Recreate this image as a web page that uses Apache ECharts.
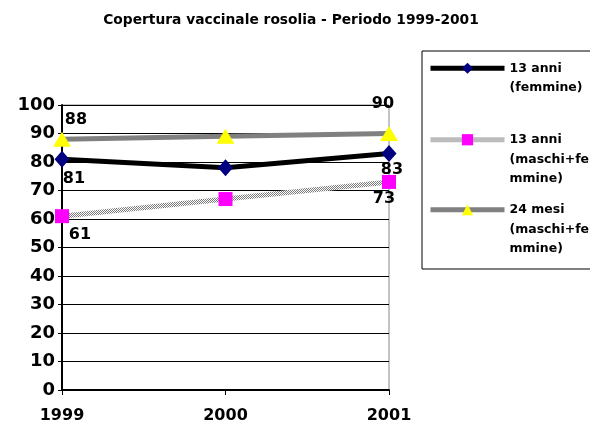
<!DOCTYPE html>
<html>
<head>
<meta charset="utf-8">
<script src="https://cdn.jsdelivr.net/npm/echarts@6/dist/echarts.min.js"></script>
<style>
  html, body { margin: 0; padding: 0; background: #fff; }
  #chart { width: 590px; height: 434px; }
</style>
</head>
<body>
<div id="chart"></div>
<script>
let years = ['1999', '2000', '2001'];
let femmine13 = [81, 78, 83];
let maschiFemmine13 = [61, 67, 73];
let mesi24 = [88, 89, 90];
let yTicks = [0, 10, 20, 30, 40, 50, 60, 70, 80, 90, 100];

let names = ['13 anni\n(femmine)', '13 anni\n(maschi+fe\nmmine)', '24 mesi\n(maschi+fe\nmmine)'];

// hatched grey stroke for the middle series
let pat = document.createElement('canvas');
pat.width = 2; pat.height = 2;
let pctx = pat.getContext('2d');
pctx.fillStyle = '#ffffff'; pctx.fillRect(0, 0, 2, 2);
pctx.fillStyle = '#7a7a7a'; pctx.fillRect(0, 0, 1, 1); pctx.fillRect(1, 1, 1, 1);
let hatch = { image: pat, repeat: 'repeat' };

let font = 'DejaVu Sans, Verdana, sans-serif';

// label placement only on first and last point
function withLabels(vals, first, last) {
  return vals.map(function(v, i) {
    let item = { value: v };
    if (i === 0) item.label = Object.assign({ show: true }, first);
    else if (i === vals.length - 1) item.label = Object.assign({ show: true }, last);
    return item;
  });
}

let labelStyle = {
  color: '#000',
  fontFamily: font,
  fontWeight: 'bold',
  fontSize: 16
};

let chart = echarts.init(document.getElementById('chart'));

// legend text is centred on the icon; pad with blank lines on top so the
// icon sits next to the first line
function legendFor(name, top, lineColor) {
  let lines = name.split('\n').length;
  let ls = { width: 'inherit' };
  if (lineColor) ls.color = lineColor;
  return {
    data: [name],
    left: 428,
    top: top,
    padding: 0,
    itemWidth: 74,
    itemHeight: 14,
    selectedMode: false,
    lineStyle: ls,
    formatter: function(n) {
      let pre = '';
      for (let i = 1; i < lines; i++) pre += ' \n';
      return pre + n;
    },
    textStyle: {
      fontFamily: font,
      fontWeight: 'bold',
      fontSize: 12.5,
      color: '#000',
      lineHeight: 19.5,
      padding: [4, 0, 0, 0]
    }
  };
}

chart.setOption({
  animation: false,
  backgroundColor: '#fff',
  title: {
    text: 'Copertura vaccinale rosolia - Periodo 1999-2001',
    left: 286,
    textAlign: 'center',
    top: 8,
    textStyle: { fontFamily: font, fontWeight: 'bold', fontSize: 13.8, color: '#000' }
  },
  legend: [
    legendFor(names[0], 37),
    legendFor(names[1], 89, hatch),
    legendFor(names[2], 159)
  ],
  graphic: [{
    type: 'rect',
    shape: { x: 422, y: 51, width: 200, height: 218 },
    style: { fill: 'none', stroke: '#000', lineWidth: 1 },
    z: -1
  }],
  grid: {
    left: 62,
    right: 201,
    top: 105,
    bottom: 44,
    show: true,
    borderColor: '#888',
    borderWidth: 1
  },
  xAxis: {
    type: 'category',
    data: years,
    boundaryGap: false,
    axisLine: { lineStyle: { color: '#000', width: 2 } },
    axisTick: { show: true, length: 5, alignWithLabel: true, lineStyle: { color: '#000' } },
    axisLabel: { fontFamily: font, fontWeight: 'bold', fontSize: 16, color: '#000', margin: 18 },
    splitLine: { show: false }
  },
  yAxis: {
    type: 'value',
    min: yTicks[0],
    max: yTicks[yTicks.length - 1],
    interval: 10,
    axisLine: { show: true, lineStyle: { color: '#000', width: 2 } },
    axisTick: { show: true, length: 4, lineStyle: { color: '#000' } },
    axisLabel: { fontFamily: font, fontWeight: 'bold', fontSize: 18, color: '#000', margin: 7 },
    splitLine: { show: true, lineStyle: { color: '#000', width: 1 } }
  },
  series: [{
    name: names[0],
    type: 'line',
    data: withLabels(femmine13,
      Object.assign({ position: 'bottom', distance: 3, offset: [12, 0] }, labelStyle),
      Object.assign({ position: 'bottom', distance: 0, offset: [3, 0] }, labelStyle)),
    lineStyle: { color: '#000', width: 5 },
    itemStyle: { color: '#000080' },
    symbol: 'diamond',
    symbolSize: [15, 17],
    z: 3
  }, {
    name: names[1],
    type: 'line',
    data: withLabels(maschiFemmine13,
      Object.assign({ position: 'bottom', distance: 4, offset: [18, 0] }, labelStyle),
      Object.assign({ position: 'bottom', distance: 2, offset: [-5, 0] }, labelStyle)),
    lineStyle: { color: hatch, width: 5 },
    itemStyle: { color: '#ff00ff' },
    symbol: 'rect',
    symbolSize: 14,
    z: 2
  }, {
    name: names[2],
    type: 'line',
    data: withLabels(mesi24,
      Object.assign({ position: 'top', distance: 4, offset: [14, 0] }, labelStyle),
      Object.assign({ position: 'top', distance: 14, offset: [-6, 0] }, labelStyle)),
    lineStyle: { color: '#808080', width: 5 },
    itemStyle: { color: '#ffff00' },
    symbol: 'triangle',
    symbolSize: [18, 15],
    z: 4
  }]
});
</script>
</body>
</html>
